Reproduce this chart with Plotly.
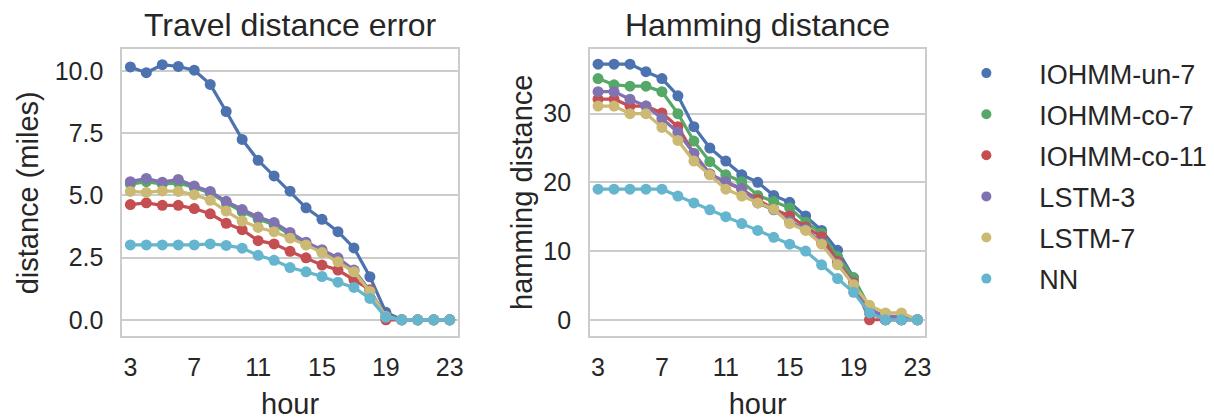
import plotly.graph_objects as go

# hours of the day (x axis)
hours = list(range(3, 24))

models = ["IOHMM-un-7", "IOHMM-co-7", "IOHMM-co-11", "LSTM-3", "LSTM-7", "NN"]
colors = ["#4C72B0", "#55A868", "#C44E52", "#8172B2", "#CCB974", "#64B5CD"]

# travel distance error (miles) per model
dist_iohmm_un_7 = [10.16, 9.93, 10.25, 10.18, 10.03, 9.46, 8.37, 7.25, 6.41, 5.78, 5.17,
                   4.50, 4.04, 3.54, 2.89, 1.73, 0.30, 0, 0, 0, 0]
dist_iohmm_co_7 = [5.45, 5.55, 5.45, 5.50, 5.32, 5.10, 4.70, 4.35, 4.05, 3.82, 3.42,
                   3.02, 2.75, 2.42, 1.97, 1.17, 0.12, 0, 0, 0, 0]
dist_iohmm_co_11 = [4.63, 4.70, 4.60, 4.60, 4.47, 4.26, 3.88, 3.62, 3.18, 3.05, 2.75,
                    2.49, 2.20, 2.00, 1.62, 1.21, 0, 0, 0, 0, 0]
dist_lstm_3 = [5.55, 5.68, 5.53, 5.64, 5.38, 5.16, 4.76, 4.43, 4.13, 3.91, 3.51,
               3.12, 2.82, 2.49, 2.00, 1.16, 0.15, 0, 0, 0, 0]
dist_lstm_7 = [5.16, 5.12, 5.18, 5.16, 5.03, 4.80, 4.37, 3.97, 3.71, 3.54, 3.28,
               3.01, 2.70, 2.33, 1.93, 1.14, 0.13, 0, 0, 0, 0]
dist_nn = [3.01, 3.01, 3.01, 3.01, 3.01, 3.05, 2.99, 2.88, 2.59, 2.39, 2.10,
           1.93, 1.74, 1.51, 1.30, 0.86, 0.10, 0, 0, 0, 0]

# hamming distance per model
ham_iohmm_un_7 = [37.2, 37.2, 37.2, 36.1, 35.1, 32.6, 28.1, 25.0, 23.1, 21.1, 20.0,
                  18.1, 17.1, 15.1, 13.0, 10.1, 6.1, 1.0, 0, 0, 0]
ham_iohmm_co_7 = [35.1, 34.2, 34.0, 34.0, 33.2, 30.0, 26.0, 23.0, 21.1, 20.1, 18.1,
                  17.2, 16.3, 14.2, 12.6, 9.2, 6.1, 1.8, 0, 0, 0]
ham_iohmm_co_11 = [32.1, 32.1, 31.1, 31.1, 30.1, 28.1, 24.2, 21.2, 20.0, 19.0, 17.5,
                   16.1, 15.1, 13.5, 12.1, 8.5, 5.4, 0, 0, 0, 0]
ham_lstm_3 = [33.2, 33.2, 32.1, 31.1, 29.3, 27.3, 24.2, 21.2, 20.1, 19.1, 17.0,
              16.0, 14.3, 13.2, 11.2, 8.2, 5.2, 1.5, 0.5, 0.5, 0]
ham_lstm_7 = [31.1, 31.1, 30.0, 30.0, 28.0, 26.1, 23.1, 21.1, 19.0, 18.0, 17.0,
              16.1, 14.0, 13.0, 11.0, 8.0, 5.1, 2.1, 1.0, 1.0, 0]
ham_nn = [19, 19, 19, 19, 19, 18, 17, 16, 15, 14, 13,
          12, 11, 10, 8, 6, 4, 1.0, 0, 0, 0]

dist_series = [dist_iohmm_un_7, dist_iohmm_co_7, dist_iohmm_co_11, dist_lstm_3, dist_lstm_7, dist_nn]
ham_series = [ham_iohmm_un_7, ham_iohmm_co_7, ham_iohmm_co_11, ham_lstm_3, ham_lstm_7, ham_nn]

x_ticks = [3, 7, 11, 15, 19, 23]
dist_ticks = [0, 2.5, 5, 7.5, 10]
ham_ticks = [0, 10, 20, 30]

FONT = "Liberation Sans, Arial, sans-serif"
TEXT = "#262626"
GRID = "#cccccc"
W, H = 1214, 420

fig = go.Figure()

for name, color, d, h in zip(models, colors, dist_series, ham_series):
    fig.add_trace(go.Scatter(x=hours, y=d, mode="lines+markers", xaxis="x", yaxis="y",
                             line=dict(color=color, width=3.2), marker=dict(color=color, size=11),
                             showlegend=False, name=name))
    fig.add_trace(go.Scatter(x=hours, y=h, mode="lines+markers", xaxis="x2", yaxis="y2",
                             line=dict(color=color, width=3.2), marker=dict(color=color, size=11),
                             showlegend=False, name=name))

# legend entries: dot only
for i, (name, color) in enumerate(zip(models, colors)):
    fig.add_trace(go.Scatter(x=[None], y=[None], mode="markers", name=name,
                             marker=dict(color=color, size=10), legendgroup=str(i),
                             xaxis="x", yaxis="y"))

axis_common = dict(
    showline=True, mirror=True, linecolor=GRID, linewidth=2,
    tickfont=dict(family=FONT, size=25, color=TEXT),
    zeroline=False, ticks="",
)
xtitle_font = dict(size=29, family=FONT, color=TEXT)

x_dom1 = [123 / W, 460 / W]
x_dom2 = [593 / W, 930 / W]
y_dom = [(H - 342.5) / H, (H - 50) / H]
y_mid = (y_dom[0] + y_dom[1]) / 2

fig.update_layout(
    width=W, height=H,
    margin=dict(l=0, r=0, t=0, b=0),
    paper_bgcolor="white", plot_bgcolor="white",
    font=dict(family=FONT, color=TEXT),
    xaxis=dict(domain=x_dom1, range=[2.5, 23.5], tickvals=x_ticks, showgrid=False,
               anchor="y", ticklabelstandoff=8,
               title=dict(text="hour", font=xtitle_font, standoff=19),
               **axis_common),
    yaxis=dict(domain=y_dom, range=[-0.65, 10.88], tickvals=dist_ticks, tickformat=".1f",
               showgrid=True, gridcolor=GRID, gridwidth=2, anchor="x", ticklabelstandoff=12,
               **axis_common),
    xaxis2=dict(domain=x_dom2, range=[2.5, 23.5], tickvals=x_ticks, showgrid=False,
                anchor="y2", ticklabelstandoff=8,
                title=dict(text="hour", font=xtitle_font, standoff=19),
                **axis_common),
    yaxis2=dict(domain=y_dom, range=[-2.36, 39.4], tickvals=ham_ticks,
                showgrid=True, gridcolor=GRID, gridwidth=2, anchor="x2", ticklabelstandoff=12,
                **axis_common),
    legend=dict(x=938 / W, y=(H - 50) / H, xanchor="left", yanchor="top",
                font=dict(family=FONT, size=27, color=TEXT), itemwidth=96,
                tracegroupgap=3, bgcolor="rgba(0,0,0,0)"),
    annotations=[
        dict(text="Travel distance error", x=(x_dom1[0] + x_dom1[1]) / 2, y=y_dom[1],
             xref="paper", yref="paper", xanchor="center", yanchor="bottom", yshift=4,
             showarrow=False, font=dict(family=FONT, size=32, color=TEXT)),
        dict(text="Hamming distance", x=(x_dom2[0] + x_dom2[1]) / 2, y=y_dom[1],
             xref="paper", yref="paper", xanchor="center", yanchor="bottom", yshift=4,
             showarrow=False, font=dict(family=FONT, size=32, color=TEXT)),
        dict(text="distance (miles)", x=28 / W, y=y_mid, textangle=-90,
             xref="paper", yref="paper", xanchor="center", yanchor="middle",
             showarrow=False, font=xtitle_font),
        dict(text="hamming distance", x=524 / W, y=y_mid, textangle=-90,
             xref="paper", yref="paper", xanchor="center", yanchor="middle",
             showarrow=False, font=xtitle_font),
    ],
)

fig.write_html("out.html")
